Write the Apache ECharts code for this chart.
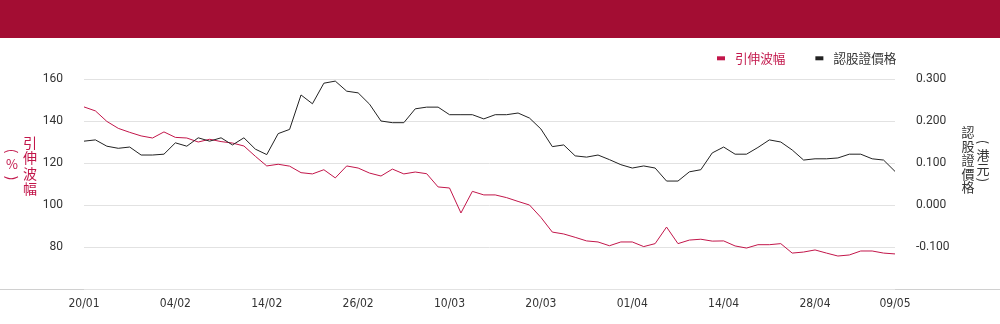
<!DOCTYPE html>
<html>
<head>
<meta charset="utf-8">
<script src="https://cdn.jsdelivr.net/npm/echarts@6/dist/echarts.min.js"></script>
<style>
  html, body { margin: 0; padding: 0; background: #fff; }
  #chart { width: 1000px; height: 324px; }
</style>
</head>
<body>
<div id="chart"></div>
<script>
// trading days, 20/01 - 09/05
var dates = [
  '20/01', '21/01', '22/01', '23/01', '24/01', '27/01', '28/01', '03/02', '04/02', '05/02',
  '06/02', '07/02', '10/02', '11/02', '12/02', '13/02', '14/02', '17/02', '18/02', '19/02',
  '20/02', '21/02', '24/02', '25/02', '26/02', '27/02', '28/02', '03/03', '04/03', '05/03',
  '06/03', '07/03', '10/03', '11/03', '12/03', '13/03', '14/03', '17/03', '18/03', '19/03',
  '20/03', '21/03', '24/03', '25/03', '26/03', '27/03', '28/03', '31/03', '01/04', '02/04',
  '03/04', '07/04', '08/04', '09/04', '10/04', '11/04', '14/04', '15/04', '16/04', '17/04',
  '22/04', '23/04', '24/04', '25/04', '28/04', '29/04', '30/04', '02/05', '06/05', '07/05',
  '08/05', '09/05'
]

// 引伸波幅 (%)
var volatility = [
  146.7, 144.8, 139.8, 136.5, 134.6, 132.9, 131.9, 134.8, 132.2, 131.9,
  130.0, 131.3, 130.2, 129.5, 128.1, 123.2, 118.6, 119.4, 118.5, 115.4,
  114.8, 116.8, 112.9, 118.6, 117.6, 115.2, 113.8, 117.1, 114.8, 115.7,
  114.9, 108.6, 108.1, 96.2, 106.5, 104.8, 104.8, 103.5, 101.7, 100.0,
  94.1, 87.1, 86.2, 84.6, 82.9, 82.4, 80.6, 82.4, 82.4, 80.2,
  81.6, 89.5, 81.6, 83.3, 83.7, 82.8, 82.9, 80.5, 79.5, 81.1,
  81.1, 81.6, 77.1, 77.6, 78.6, 77.1, 75.7, 76.2, 78.1, 78.1,
  77.1, 76.7
]

// 認股證價格 (港元)
var price = [
  0.152, 0.155, 0.140, 0.135, 0.138, 0.119, 0.119, 0.121, 0.148, 0.140,
  0.160, 0.152, 0.160, 0.143, 0.160, 0.133, 0.120, 0.170, 0.180, 0.262,
  0.241, 0.290, 0.295, 0.271, 0.267, 0.240, 0.200, 0.196, 0.196, 0.229,
  0.233, 0.233, 0.215, 0.215, 0.215, 0.205, 0.215, 0.215, 0.219, 0.207,
  0.181, 0.139, 0.143, 0.117, 0.114, 0.119, 0.108, 0.096, 0.088, 0.093,
  0.088, 0.057, 0.057, 0.079, 0.084, 0.124, 0.138, 0.121, 0.121, 0.137,
  0.155, 0.150, 0.131, 0.107, 0.110, 0.110, 0.112, 0.121, 0.121, 0.110,
  0.107, 0.080
]

var RED = '#c2164a'
var DARK = '#222'
var TXT = '#333'
var CJK = '"Noto Sans CJK TC"'

// one stacked glyph of a vertical axis title
function glyph (ch, x, y, color, size, rotate) {
  return {
    type: 'text',
    x: x,
    y: y,
    rotation: rotate ? -Math.PI / 2 : 0,
    style: {
      text: ch,
      fill: color,
      font: size + 'px ' + CJK,
      align: 'center',
      verticalAlign: 'middle'
    }
  }
}

var chart = echarts.init(document.getElementById('chart'))

var option = {
  animation: false,
  grid: {
    left: 84,
    right: 105,
    top: 79,
    bottom: 35,
    containLabel: false
  },
  legend: {
    left: 717,
    top: 52,
    padding: 0,
    icon: 'rect',
    itemWidth: 8,
    itemHeight: 4,
    itemGap: 30,
    textStyle: {
      fontFamily: 'Noto Sans CJK TC',
      fontSize: 12.6,
      padding: [0, 0, 0, 5]
    },
    data: [
      { name: '引伸波幅', textStyle: { color: RED } },
      { name: '認股證價格', textStyle: { color: TXT } }
    ]
  },
  xAxis: {
    type: 'category',
    data: dates,
    boundaryGap: false,
    axisLine: { show: false },
    axisTick: { show: false },
    axisLabel: {
      color: TXT,
      fontFamily: 'DejaVu Sans Condensed',
      fontSize: 12,
      margin: 9,
      interval: function (index) {
        return index % 8 === 0 || index === dates.length - 1
      }
    }
  },
  yAxis: [
    {
      type: 'value',
      min: 60,
      max: 160,
      interval: 20,
      axisLine: { show: false },
      axisTick: { show: false },
      splitLine: { lineStyle: { color: '#e2e2e2', width: 1 } },
      axisLabel: {
        showMinLabel: false,
        color: TXT,
        fontFamily: 'Roboto',
        fontSize: 12,
        margin: 21
      }
    },
    {
      type: 'value',
      min: -0.2,
      max: 0.3,
      interval: 0.1,
      axisLine: { show: false },
      axisTick: { show: false },
      splitLine: { show: false },
      axisLabel: {
        showMinLabel: false,
        color: TXT,
        fontFamily: 'Roboto',
        fontSize: 12,
        margin: 21,
        formatter: function (v) {
          return v.toFixed(3)
        }
      }
    }
  ],
  series: [
    {
      name: '引伸波幅',
      type: 'line',
      yAxisIndex: 0,
      data: volatility,
      showSymbol: false,
      color: RED,
      lineStyle: { color: RED, width: 1 }
    },
    {
      name: '認股證價格',
      type: 'line',
      yAxisIndex: 1,
      data: price,
      showSymbol: false,
      color: DARK,
      lineStyle: { color: DARK, width: 1 }
    }
  ],
  graphic: [
    {
      type: 'rect',
      left: 0,
      top: 0,
      shape: { width: 1000, height: 38 },
      style: { fill: '#a30d33' }
    },
    {
      type: 'rect',
      left: 0,
      top: 289,
      shape: { width: 1000, height: 1 },
      style: { fill: '#d0d0d0' }
    },
    // left title: 引伸波幅 (%)
    glyph('引', 30, 142.5, RED, 14),
    glyph('伸', 30, 158, RED, 14),
    glyph('波', 30, 173.5, RED, 14),
    glyph('幅', 30, 189, RED, 14),
    glyph('(', 12, 151, RED, 14, true),
    glyph('%', 12, 164, RED, 13),
    glyph(')', 12, 178, RED, 14, true),
    // right title: 認股證價格 (港元)
    glyph('認', 968, 132.5, TXT, 13),
    glyph('股', 968, 146.2, TXT, 13),
    glyph('證', 968, 160, TXT, 13),
    glyph('價', 968, 173.7, TXT, 13),
    glyph('格', 968, 187.5, TXT, 13),
    glyph('(', 983, 142, TXT, 13, true),
    glyph('港', 983, 155.5, TXT, 13),
    glyph('元', 983, 169.5, TXT, 13),
    glyph(')', 983, 180, TXT, 13, true)
  ]
}

chart.setOption(option)
window.addEventListener('resize', function () {
  chart.resize()
})
</script>
</body>
</html>
